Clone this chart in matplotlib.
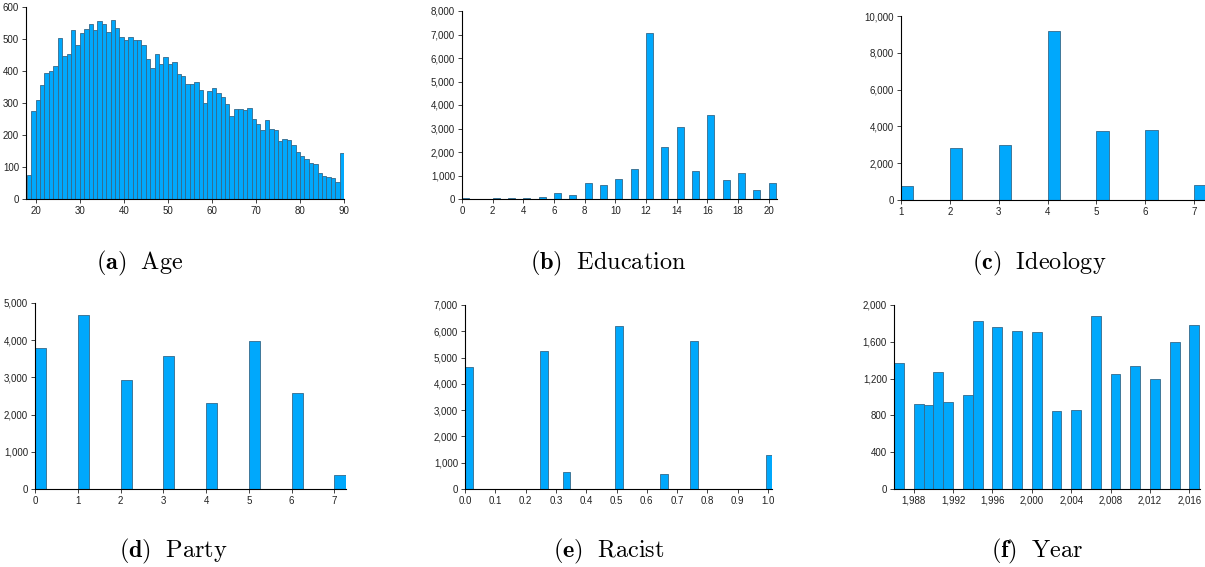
import matplotlib.pyplot as plt
import numpy as np
from matplotlib.ticker import MultipleLocator, StrMethodFormatter

plt.rcParams['font.family'] = ['Liberation Sans', 'DejaVu Sans']
plt.rcParams['mathtext.fontset'] = 'cm'

# ---- data ----
age_values = np.arange(18, 90)
age_counts = [75, 275, 310, 357, 393, 400, 415, 503, 446, 453, 528, 480, 520, 530,
              546, 528, 557, 546, 522, 560, 535, 505, 496, 505, 497, 497, 482, 437,
              410, 452, 422, 445, 422, 428, 390, 383, 360, 360, 365, 340, 300, 338,
              346, 331, 320, 297, 258, 281, 281, 278, 284, 249, 234, 216, 246, 219,
              217, 181, 187, 183, 169, 147, 134, 124, 112, 108, 82, 72, 68, 65, 53, 143]

edu_values = np.arange(0, 21)
edu_counts = [40, 15, 40, 40, 60, 90, 255, 185, 680, 610, 865, 1290, 7050, 2220,
              3075, 1205, 3585, 810, 1090, 385, 695]

ideo_values = [1, 2, 3, 4, 5, 6, 7]
ideo_counts = [760, 2845, 2990, 9170, 3730, 3790, 800]

party_values = [0, 1, 2, 3, 4, 5, 6, 7]
party_counts = [3800, 4690, 2935, 3585, 2300, 3980, 2575, 365]

racist_values = [0.0, 0.25, 1 / 3, 0.5, 2 / 3, 0.75, 1.0]
racist_counts = [4660, 5240, 633, 6190, 570, 5620, 1304]

year_values = [1986, 1988, 1989, 1990, 1991, 1993, 1994, 1996, 1998, 2000, 2002,
               2004, 2006, 2008, 2010, 2012, 2014, 2016]
year_counts = [1370, 924, 913, 1272, 946, 1018, 1826, 1761, 1721, 1707, 848, 859,
               1884, 1250, 1337, 1196, 1598, 1786]

captions = [r'$\mathbf{(a)}\ \ \mathrm{Age}$', r'$\mathbf{(b)}\ \ \mathrm{Education}$',
            r'$\mathbf{(c)}\ \ \mathrm{Ideology}$', r'$\mathbf{(d)}\ \ \mathrm{Party}$',
            r'$\mathbf{(e)}\ \ \mathrm{Racist}$', r'$\mathbf{(f)}\ \ \mathrm{Year}$']

FACE = '#00a8fc'
EDGE = '#35698a'
W, H = 1205, 567

fig = plt.figure(figsize=(W / 100, H / 100), dpi=100)


def make_ax(l, r, t, b):
    ax = fig.add_axes([l / W, 1 - b / H, (r - l) / W, (b - t) / H])
    for s in ['top', 'right']:
        ax.spines[s].set_visible(False)
    for s in ['left', 'bottom']:
        ax.spines[s].set_linewidth(0.8)
    ax.tick_params(labelsize=7, length=3, width=0.6, pad=2, colors='#222222')
    return ax


def bars(ax, x, h, w):
    ax.bar(x, h, width=w, align='edge', color=FACE, edgecolor=EDGE, linewidth=0.6)


# (a) Age
ax = make_ax(26, 344, 7, 199)
bars(ax, age_values, age_counts, 1.0)
ax.set_xlim(17.8, 90)
ax.set_ylim(0, 600)
ax.set_xticks(np.arange(20, 91, 10))
ax.yaxis.set_major_locator(MultipleLocator(100))

# (b) Education
ax = make_ax(462, 777, 11, 199)
bars(ax, edu_values, edu_counts, 0.45)
ax.set_xlim(0, 20.54)
ax.set_ylim(0, 8000)
ax.set_xticks(np.arange(0, 21, 2))
ax.yaxis.set_major_locator(MultipleLocator(1000))
ax.yaxis.set_major_formatter(StrMethodFormatter('{x:,.0f}'))

# (c) Ideology
ax = make_ax(901, 1205, 16, 200)
bars(ax, ideo_values, ideo_counts, 0.25)
ax.set_xlim(1, 7.22)
ax.set_ylim(0, 10000)
ax.set_xticks(np.arange(1, 8))
ax.yaxis.set_major_locator(MultipleLocator(2000))
ax.yaxis.set_major_formatter(StrMethodFormatter('{x:,.0f}'))

# (d) Party
ax = make_ax(35, 346, 303, 489)
bars(ax, party_values, party_counts, 0.26)
ax.set_xlim(0, 7.27)
ax.set_ylim(0, 5000)
ax.set_xticks(np.arange(0, 8))
ax.yaxis.set_major_locator(MultipleLocator(1000))
ax.yaxis.set_major_formatter(StrMethodFormatter('{x:,.0f}'))

# (e) Racist -- histogram bins of width ~0.0248
bw = 0.0248
ax = make_ax(465, 772, 305, 489)
bars(ax, np.floor(np.array(racist_values) / bw) * bw, racist_counts, bw)
ax.set_xlim(0, 1.013)
ax.set_ylim(0, 7000)
ax.set_xticks(np.arange(0, 1.01, 0.1))
ax.xaxis.set_major_formatter(StrMethodFormatter('{x:.1f}'))
ax.yaxis.set_major_locator(MultipleLocator(1000))
ax.yaxis.set_major_formatter(StrMethodFormatter('{x:,.0f}'))

# (f) Year
ax = make_ax(894, 1200, 305, 489)
bars(ax, year_values, year_counts, 1.0)
ax.set_xlim(1986, 2017.08)
ax.set_ylim(0, 2000)
ax.set_xticks(np.arange(1988, 2017, 4))
ax.xaxis.set_major_formatter(StrMethodFormatter('{x:,.0f}'))
ax.yaxis.set_major_locator(MultipleLocator(400))
ax.yaxis.set_major_formatter(StrMethodFormatter('{x:,.0f}'))

# captions
cap_pos = [(140, 263), (608, 263), (1039, 263), (173, 551), (609, 551), (1037, 551)]
for (cx, cy), txt in zip(cap_pos, captions):
    fig.text(cx / W, 1 - cy / H, txt, ha='center', va='center', fontsize=17.5)

fig.savefig('out.png', dpi=100)
